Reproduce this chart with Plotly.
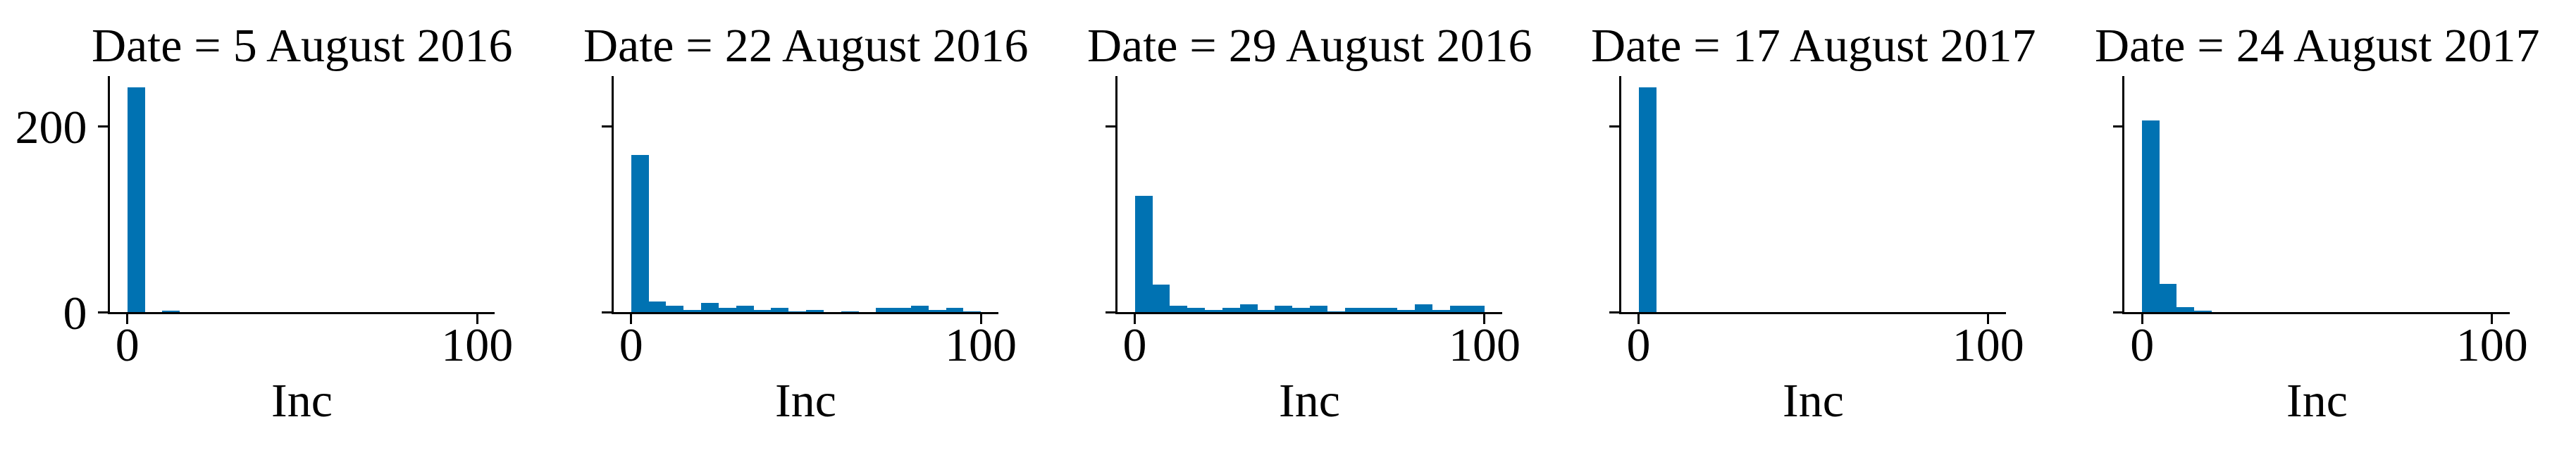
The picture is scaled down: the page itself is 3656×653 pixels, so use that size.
import plotly.graph_objects as go

# ---- data ----
dates = ["5 August 2016", "22 August 2016", "29 August 2016", "17 August 2017", "24 August 2017"]
bin_edges = [0, 5, 10, 15, 20, 25, 30, 35, 40, 45, 50, 55, 60, 65, 70, 75, 80, 85, 90, 95, 100]
counts_2016_08_05 = [242, 0, 2, 0, 0, 0, 0, 0, 0, 0, 0, 0, 0, 0, 0, 0, 0, 0, 0, 0]
counts_2016_08_22 = [169, 12, 7, 3, 10, 5, 7, 3, 5, 1, 3, 0, 1, 0, 5, 5, 7, 3, 5, 1]
counts_2016_08_29 = [125, 30, 7, 5, 3, 5, 9, 3, 7, 5, 7, 1, 5, 5, 5, 3, 9, 3, 7, 7]
counts_2017_08_17 = [242, 0, 0, 0, 0, 0, 0, 0, 0, 0, 0, 0, 0, 0, 0, 0, 0, 0, 0, 0]
counts_2017_08_24 = [206, 31, 6, 2, 0, 0, 0, 0, 0, 0, 0, 0, 0, 0, 0, 0, 0, 0, 0, 0]
x_ticks = [0, 100]
y_ticks = [0, 200]
x_label = "Inc"
facet_label = "Date"

all_counts = [counts_2016_08_05, counts_2016_08_22, counts_2016_08_29,
              counts_2017_08_17, counts_2017_08_24]

# ---- style / layout ----
W, H = 3656, 653
FONT = "Liberation Serif"
FS = 68
BAR_COLOR = "#0072B2"
LW = 2.5

centers = [(a + b) / 2 for a, b in zip(bin_edges[:-1], bin_edges[1:])]
widths = [b - a for a, b in zip(bin_edges[:-1], bin_edges[1:])]

fig = go.Figure()

panel_left0 = 149      # px of the y-axis line of the first panel
panel_w = 550
panel_step = 720
plot_top, plot_bot = 106, 463   # px from the top
ydom = [1 - plot_bot / H, 1 - plot_top / H]

annotations = []
for i, (d, c) in enumerate(zip(dates, all_counts)):
    xa = "x" if i == 0 else f"x{i+1}"
    ya = "y" if i == 0 else f"y{i+1}"
    fig.add_trace(go.Bar(
        x=centers, y=c, width=widths,
        marker=dict(color=BAR_COLOR, line=dict(width=0)),
        xaxis=xa, yaxis=ya, showlegend=False,
    ))
    x0 = (panel_left0 + panel_step * i) / W
    x1 = (panel_left0 + panel_w + panel_step * i) / W
    axkey = "xaxis" if i == 0 else f"xaxis{i+1}"
    aykey = "yaxis" if i == 0 else f"yaxis{i+1}"
    fig.layout[axkey] = dict(
        domain=[x0, x1], range=[-5, 105], anchor=ya,
        tickvals=x_ticks, ticks="outside", ticklen=14, tickwidth=LW,
        tickcolor="black", showline=True, linewidth=LW, linecolor="black",
        showgrid=False, zeroline=False, ticklabelstandoff=-30,
        tickfont=dict(family=FONT, size=FS, color="black"),
    )
    fig.layout[aykey] = dict(
        domain=ydom, range=[0, 254], anchor=xa,
        tickvals=y_ticks, ticks="outside", ticklen=14, tickwidth=LW,
        tickcolor="black", showline=True, linewidth=LW, linecolor="black",
        showgrid=False, zeroline=False, showticklabels=(i == 0),
        ticklabelstandoff=2,
        tickfont=dict(family=FONT, size=FS, color="black"),
    )
    xc = (x0 + x1) / 2
    annotations.append(dict(
        text=f"{facet_label} = {d}", x=xc, xref="paper", xanchor="center",
        y=1 - (86 + 0.216 * FS + 1) / H, yref="paper", yanchor="bottom",
        showarrow=False, font=dict(family=FONT, size=FS, color="black"),
    ))
    annotations.append(dict(
        text=x_label, x=xc, xref="paper", xanchor="center",
        y=1 - (622 + 0.216 * FS + 1) / H, yref="paper", yanchor="bottom",
        showarrow=False, font=dict(family=FONT, size=FS, color="black"),
    ))

fig.update_layout(
    width=W, height=H,
    margin=dict(l=0, r=0, t=0, b=0),
    paper_bgcolor="white", plot_bgcolor="white",
    bargap=0, annotations=annotations,
    font=dict(family=FONT, size=FS, color="black"),
)

fig.write_html("out.html")
